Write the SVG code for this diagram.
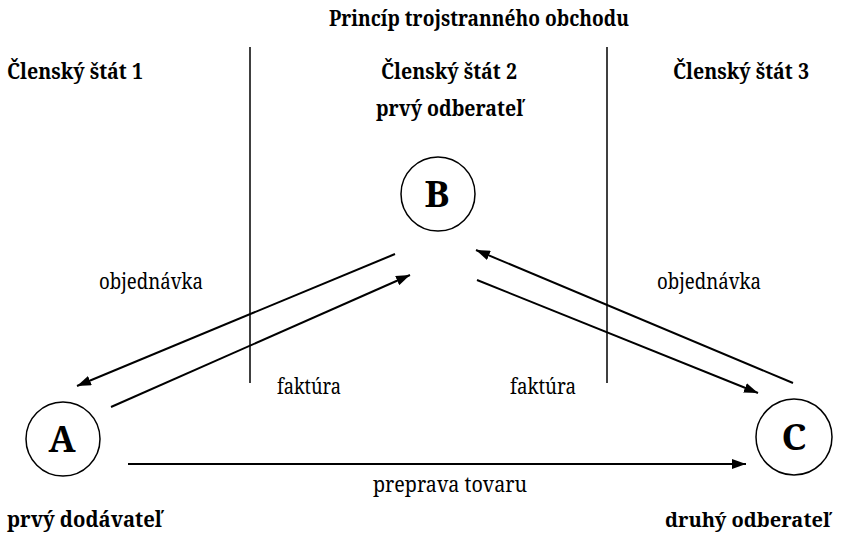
<svg xmlns="http://www.w3.org/2000/svg" width="842" height="539" viewBox="0 0 842 539">
<style>
text{font-family:'Noto Serif','Liberation Serif','DejaVu Serif',serif;fill:#000}
.b{font-weight:bold;font-size:22px}
.r{font-weight:normal;font-size:22px}
.L{font-weight:bold;font-size:36px;text-anchor:middle}
.ln{stroke:#000;stroke-width:2;fill:none}
.v{stroke:#000;stroke-width:1.5;fill:none}
.c{stroke:#000;stroke-width:1.5;fill:#fff}
</style>
<defs>
<marker id="ah" viewBox="0 0 14 10" refX="14" refY="5" markerWidth="14" markerHeight="10" markerUnits="userSpaceOnUse" orient="auto">
<path d="M0,0 L14,5 L0,10 Z" fill="#000"/>
</marker>
</defs>
<rect width="842" height="539" fill="#fff"/>
<text class="b" x="329" y="26" textLength="300" lengthAdjust="spacingAndGlyphs">Princíp trojstranného obchodu</text>
<g id="borders">
<line class="v" x1="250" y1="47" x2="250" y2="383"/>
<line class="v" x1="607" y1="47" x2="607" y2="383"/>
</g>
<text class="b" x="7" y="79" textLength="136" lengthAdjust="spacingAndGlyphs">Členský štát 1</text>
<text class="b" x="381" y="79" textLength="136" lengthAdjust="spacingAndGlyphs">Členský štát 2</text>
<text class="b" x="673" y="79" textLength="136" lengthAdjust="spacingAndGlyphs">Členský štát 3</text>
<g id="connectors">
<line class="ln" x1="395" y1="254" x2="77" y2="386" marker-end="url(#ah)"/>
<line class="ln" x1="111" y1="407" x2="410" y2="275" marker-end="url(#ah)"/>
<line class="ln" x1="793" y1="383" x2="476" y2="250" marker-end="url(#ah)"/>
<line class="ln" x1="477" y1="280" x2="758" y2="393" marker-end="url(#ah)"/>
<line class="ln" x1="128" y1="464" x2="746" y2="464" marker-end="url(#ah)"/>
<text class="r" x="99" y="289" textLength="104" lengthAdjust="spacingAndGlyphs">objednávka</text>
<text class="r" x="277" y="394" textLength="64" lengthAdjust="spacingAndGlyphs">faktúra</text>
<text class="r" x="510" y="394" textLength="66" lengthAdjust="spacingAndGlyphs">faktúra</text>
<text class="r" x="657" y="289" textLength="104" lengthAdjust="spacingAndGlyphs">objednávka</text>
<text class="r" x="373" y="492" textLength="154" lengthAdjust="spacingAndGlyphs">preprava tovaru</text>
</g>
<g id="node-B">
<circle class="c" cx="438" cy="194" r="37"/>
<text class="L" x="437" y="207" textLength="25" lengthAdjust="spacingAndGlyphs">B</text>
<text class="b" x="376" y="116" textLength="147" lengthAdjust="spacingAndGlyphs">prvý odberateľ</text>
</g>
<g id="node-A">
<circle class="c" cx="63" cy="439" r="37"/>
<text class="L" x="62" y="452" textLength="27" lengthAdjust="spacingAndGlyphs">A</text>
<text class="b" x="7" y="527" textLength="155" lengthAdjust="spacingAndGlyphs">prvý dodávateľ</text>
</g>
<g id="node-C">
<circle class="c" cx="794" cy="437" r="38"/>
<text class="L" x="794" y="450" textLength="25" lengthAdjust="spacingAndGlyphs">C</text>
<text class="b" style="font-size:20px" x="665" y="527" textLength="165" lengthAdjust="spacingAndGlyphs">druhý odberateľ</text>
</g>
</svg>
